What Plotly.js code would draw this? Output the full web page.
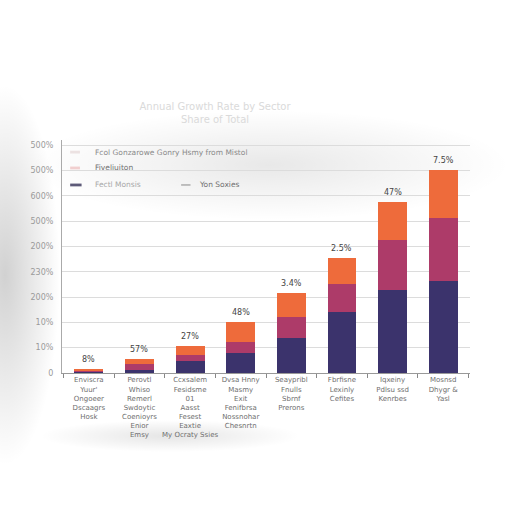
<!DOCTYPE html>
<html>
<head>
<meta charset="utf-8">
<script src="https://cdn.plot.ly/plotly-3.0.1.min.js"></script>
<style>
html,body{margin:0;padding:0;width:512px;height:512px;overflow:hidden;
background:
 radial-gradient(ellipse 55px 190px at 5px 275px, rgba(0,0,0,0.18), rgba(0,0,0,0) 100%),
 radial-gradient(ellipse 240px 55px at 270px 165px, rgba(0,0,0,0.09), rgba(0,0,0,0) 100%),
 radial-gradient(ellipse 130px 16px at 170px 436px, rgba(0,0,0,0.10), rgba(0,0,0,0) 100%),
 #ffffff;}
#chart{width:512px;height:512px;}
</style>
</head>
<body>
<div id="chart"></div>
<script>
const categories = [
  "Enviscra<br>Yuur'<br>Ongoeer<br>Dscaagrs<br>Hosk",
  "Perovtl<br>Whiso<br>Remerl<br>Swdoytic<br>Coenioyrs<br>Enior<br>Emsy",
  "Ccxsalem<br>Fesidsme<br>01<br>Aasst<br>Fesest<br>Eaxtie<br>My Ocraty Ssies",
  "Dvsa Hnny<br>Masmy<br>Exit<br>Fenifbrsa<br>Nossnohar<br>Chesnrtn",
  "Seaypribl<br>Fnulls<br>Sbrnf<br>Prerons",
  "Fbrfisne<br>Lexinly<br>Cefites",
  "Iqxeiny<br>Pdlsu ssd<br>Kenrbes",
  "Mosnsd<br>Dhygr &amp;<br>Yasl"
];
const seriesNames = ["Fectl Monsis", "Fiveliuiton", "Fcol Gonzarowe Gonry Hsmy from Mistol"];
const navyValues    = [0.03, 0.12, 0.47, 0.79, 1.38, 2.41, 3.28, 3.63];
const magentaValues = [0.04, 0.24, 0.24, 0.43, 0.83, 1.10, 1.97, 2.49];
const orangeValues  = [0.09, 0.20, 0.36, 0.79, 0.95, 1.03, 1.50, 1.90];
const barLabels = ["8%", "57%", "27%", "48%", "3.4%", "2.5%", "47%", "7.5%"];
const yTickVals = [0, 1, 2, 3, 4, 5, 6, 7, 8, 9];
const yTickText = ["0", "10%", "10%", "200%", "230%", "200%", "500%", "600%", "500%", "500%"];
const lineLegendName = "Yon Soxies";
const titleText = "Annual Growth Rate by Sector<br>Share of Total";

const colors = {navy: "#3b336c", magenta: "#ad3b69", orange: "#ee6b3b"};

const totals = categories.map((c, i) => navyValues[i] + magentaValues[i] + orangeValues[i]);

const traces = [
  {type: "bar", x: categories, y: navyValues, name: seriesNames[0], marker: {color: colors.navy}, showlegend: false, hoverinfo: "skip"},
  {type: "bar", x: categories, y: magentaValues, name: seriesNames[1], marker: {color: colors.magenta}, showlegend: false, hoverinfo: "skip"},
  {type: "bar", x: categories, y: orangeValues, name: seriesNames[2], marker: {color: colors.orange}, showlegend: false, hoverinfo: "skip"}
];

const annotations = categories.map((c, i) => ({
  x: c, y: totals[i], xref: "x", yref: "y", text: barLabels[i], showarrow: false,
  yanchor: "bottom", yshift: 3, font: {family: "DejaVu Sans", size: 8, color: "#444"}
}));

// legend drawn in paper coordinates
const legendFont = {family: "DejaVu Sans", size: 7.5, color: "#8a8a8a"};
annotations.push(
  {xref: "paper", yref: "paper", x: 0.076, y: 0.948, text: seriesNames[2], showarrow: false, xanchor: "left", yanchor: "middle", font: legendFont},
  {xref: "paper", yref: "paper", x: 0.076, y: 0.88, text: seriesNames[1], showarrow: false, xanchor: "left", yanchor: "middle", font: {family: "DejaVu Sans", size: 7.5, color: "#707070"}},
  {xref: "paper", yref: "paper", x: 0.076, y: 0.807, text: seriesNames[0], showarrow: false, xanchor: "left", yanchor: "middle", font: {family: "DejaVu Sans", size: 7.5, color: "#a8a8a8"}},
  {xref: "paper", yref: "paper", x: 0.33, y: 0.807, text: lineLegendName, showarrow: false, xanchor: "left", yanchor: "middle", font: {family: "DejaVu Sans", size: 7.5, color: "#707070"}}
);

const shapes = [
  {type: "rect", xref: "paper", yref: "paper", x0: 0.02, x1: 0.044, y0: 0.942, y1: 0.954, line: {width: 0}, fillcolor: "#ece2e2"},
  {type: "rect", xref: "paper", yref: "paper", x0: 0.02, x1: 0.044, y0: 0.874, y1: 0.886, line: {width: 0}, fillcolor: "#f1cfcf"},
  {type: "rect", xref: "paper", yref: "paper", x0: 0.02, x1: 0.048, y0: 0.801, y1: 0.813, line: {width: 0}, fillcolor: "#5d5a78"},
  {type: "line", xref: "paper", yref: "paper", x0: 0.292, x1: 0.315, y0: 0.807, y1: 0.807, line: {width: 1, color: "#888"}}
];

const layout = {
  width: 512, height: 512,
  paper_bgcolor: "rgba(0,0,0,0)", plot_bgcolor: "rgba(0,0,0,0)",
  margin: {l: 62, r: 42, t: 140, b: 139},
  barmode: "stack", bargap: 0.43,
  title: {text: titleText, x: 0.42, xanchor: "center", y: 0.785, yanchor: "middle",
          font: {family: "DejaVu Sans", size: 10, color: "#dadada"}},
  font: {family: "DejaVu Sans"},
  xaxis: {
    type: "category", range: [-0.53, 7.53],
    showline: true, linecolor: "#999", linewidth: 1,
    ticks: "outside", tickson: "boundaries", ticklen: 4, tickcolor: "#888",
    tickangle: 0, tickfont: {size: 7, color: "#6e6e6e"}, showgrid: false
  },
  yaxis: {
    range: [0, 9.2], tickvals: yTickVals, ticktext: yTickText,
    showline: true, linecolor: "#aaa", linewidth: 1,
    gridcolor: "#dcdcdc", gridwidth: 1, zeroline: false,
    tickfont: {size: 8, color: "#9a9a9a"}, ticklabelstandoff: 6
  },
  annotations: annotations,
  shapes: shapes
};

Plotly.newPlot("chart", traces, layout, {staticPlot: true});
</script>
</body>
</html>
